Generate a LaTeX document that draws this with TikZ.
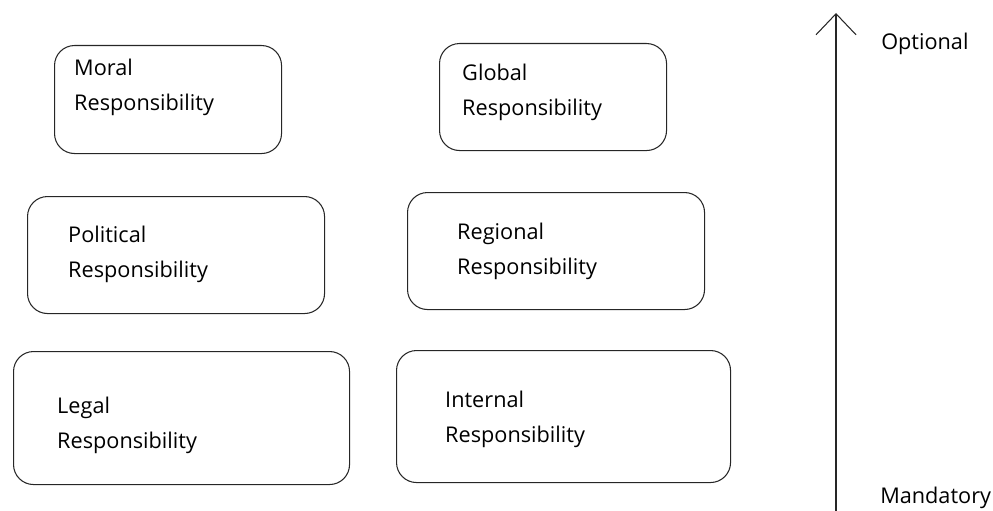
\documentclass[tikz,border=0pt]{standalone}
\usepackage{fontspec}
\setmainfont{Open Sans}
\usetikzlibrary{arrows.meta,positioning}

\begin{document}
\begin{tikzpicture}[
    x=0.03cm, y=-0.03cm,
    resp/.style={rectangle, draw=black!85, line width=0.9pt, rounded corners=0.6cm, anchor=north west, inner sep=0pt},
    lbl/.style={anchor=north west, align=left, inner sep=0pt, font=\fontsize{18.5}{30}\selectfont}
]
\useasboundingbox (0,0) rectangle (993,511);

% Left column
\node[resp, minimum width=6.81cm, minimum height=3.24cm] (moral) at (54,45) {};
\node[lbl] (moraltxt) at (74,59) {Moral\\Responsibility};
\node[resp, minimum width=8.91cm, minimum height=3.51cm] (political) at (27,196) {};
\node[lbl] (politicaltxt) at (68,226) {Political\\Responsibility};
\node[resp, minimum width=10.08cm, minimum height=3.99cm] (legal) at (13,351) {};
\node[lbl] (legaltxt) at (57,397) {Legal\\Responsibility};

% Right column
\node[resp, minimum width=6.81cm, minimum height=3.21cm] (global) at (439,43) {};
\node[lbl] (globaltxt) at (462,64) {Global\\Responsibility};
\node[resp, minimum width=8.91cm, minimum height=3.51cm] (regional) at (407,192) {};
\node[lbl] (regionaltxt) at (457,223) {Regional\\Responsibility};
\node[resp, minimum width=10.02cm, minimum height=3.96cm] (internal) at (396,350) {};
\node[lbl] (internaltxt) at (445,391) {Internal\\Responsibility};

% Scale arrow
\coordinate (low) at (836,511);
\coordinate (high) at (836,13);
\draw[black!85, line width=0.9pt, -{Straight Barb[length=0.63cm, width=1.2cm, line width=0.9pt]}] (low) -- (high);
\node[lbl, anchor=west] (optional) at (881,44) {Optional};
\node[lbl, anchor=west] (mandatory) at (880,498) {Mandatory};
\end{tikzpicture}
\end{document}
